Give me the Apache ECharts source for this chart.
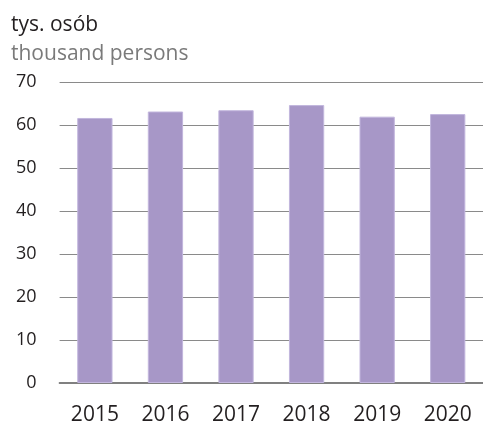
<!DOCTYPE html>
<html><head><meta charset="utf-8">
<script src="https://cdn.jsdelivr.net/npm/echarts@6/dist/echarts.min.js"></script>
<style>html,body{margin:0;padding:0;background:#fff}#c{width:483px;height:426px}</style>
</head><body><div id="c"></div>
<script>
const categories = ['2015','2016','2017','2018','2019','2020'];
const values = [61.7, 63.2, 63.5, 64.7, 62.0, 62.6];
const yTicks = [0,10,20,30,40,50,60,70];
const titlePl = 'tys. osób';
const titleEn = 'thousand persons';

const chart = echarts.init(document.getElementById('c'));
const font = '"Open Sans", "Noto Sans", sans-serif';
chart.setOption({
  animation: false,
  title: [
    {text: titlePl, left: 6, top: 10, textStyle: {fontFamily: font, fontSize: 21, fontWeight: 'normal', color: '#231f20'}},
    {text: titleEn, left: 6, top: 39, textStyle: {fontFamily: font, fontSize: 21, fontWeight: 'normal', color: '#7a7a7a'}}
  ],
  grid: {left: 59.6, top: 82.3, width: 428.6, height: 304.4, containLabel: false},
  xAxis: {
    type: 'category', data: categories,
    axisLine: {show: true, lineStyle: {color: '#808080', width: 2}},
    axisTick: {show: false},
    axisLabel: {fontFamily: font, fontSize: 21, color: '#231f20', margin: 22}
  },
  yAxis: {
    type: 'value', min: 0, max: 70, interval: 10,
    axisLine: {show: false}, axisTick: {show: false},
    axisLabel: {fontFamily: font, fontSize: 18, color: '#231f20', margin: 23,
      formatter: v => yTicks.includes(v) ? String(v) : ''},
    splitLine: {show: true, lineStyle: {color: '#8a8a8a', width: 1}}
  },
  series: [{
    type: 'bar', data: values, barWidth: '50%',
    itemStyle: {color: '#a797c7', borderColor: '#c2b6dd', borderWidth: 1}
  }]
});
</script></body></html>
